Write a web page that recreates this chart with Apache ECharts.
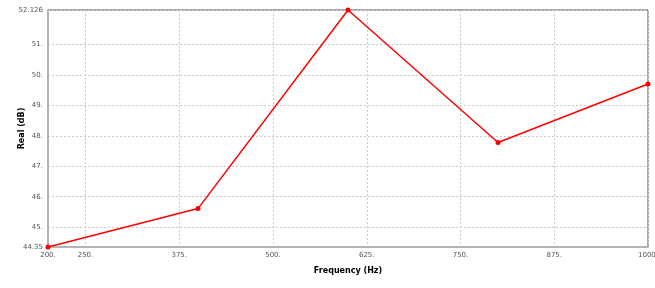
<!DOCTYPE html>
<html><head><meta charset="utf-8">
<script src="https://cdn.jsdelivr.net/npm/echarts@6/dist/echarts.min.js"></script>
<style>html,body{margin:0;padding:0;background:#fff}#c{width:655px;height:288px}</style>
</head><body><div id="c"></div>
<script>
const frequencies = [200, 400, 600, 800, 1000];
const realValues = [44.35, 45.61, 52.126, 47.78, 49.70];
const xTicks = [200, 250, 375, 500, 625, 750, 875, 1000];
const yTicks = [44.35, 45, 46, 47, 48, 49, 50, 51, 52.126];
const xTitle = 'Frequency (Hz)';
const yTitle = 'Real (dB)';

const chart = echarts.init(document.getElementById('c'));
const lblStyle = { fontSize: 7, color: '#555', fontFamily: 'DejaVu Sans' };
chart.setOption({
  animation: false,
  grid: { left: 48, right: 7, top: 10, bottom: 41, show: true, borderColor: '#555', borderWidth: 1,
          containLabel: false, outerBoundsMode: 'none' },
  xAxis: {
    type: 'value', min: 200, max: 1000,
    name: xTitle, nameLocation: 'middle', nameGap: 20, nameMoveOverlap: false,
    nameTextStyle: { fontSize: 8, fontWeight: 'bold', color: '#000', fontFamily: 'DejaVu Sans' },
    axisLine: { show: true, lineStyle: { color: '#b4b4b4', width: 2 } },
    axisTick: { show: false, customValues: xTicks },
    axisLabel: Object.assign({ customValues: xTicks, margin: 5, formatter: v => v + '.' }, lblStyle),
    splitLine: { show: true, lineStyle: { color: '#ccc', type: [2, 2], width: 1 } }
  },
  yAxis: {
    type: 'value', min: 44.35, max: 52.126,
    name: yTitle, nameLocation: 'middle', nameGap: 22, nameRotate: 90, nameMoveOverlap: false,
    nameTextStyle: { fontSize: 8, fontWeight: 'bold', color: '#000', fontFamily: 'DejaVu Sans' },
    axisLine: { show: true, lineStyle: { color: '#b4b4b4', width: 2 } },
    axisTick: { show: false, customValues: yTicks },
    axisLabel: Object.assign({ customValues: yTicks, margin: 5,
      formatter: v => (Math.abs(v - 44.35) < 1e-6 || Math.abs(v - 52.126) < 1e-6) ? String(v) : v + '.' }, lblStyle),
    splitLine: { show: true, lineStyle: { color: '#ccc', type: [2, 2], width: 1 } }
  },
  series: [{
    type: 'line',
    data: frequencies.map((f, i) => [f, realValues[i]]),
    symbol: 'circle', symbolSize: 5,
    lineStyle: { color: '#ff0000', width: 1.5 },
    itemStyle: { color: '#ff0000' },
    clip: false
  }]
});
</script>
</body></html>
